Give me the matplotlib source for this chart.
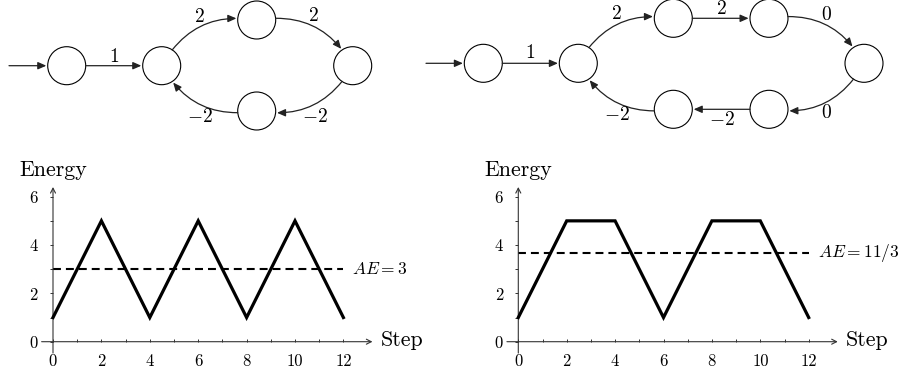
import matplotlib
matplotlib.use("Agg")
import matplotlib.pyplot as plt
from matplotlib.patches import Circle, FancyArrowPatch
import numpy as np

plt.rcParams['mathtext.fontset'] = 'cm'
plt.rcParams['font.family'] = ['cmr10', 'DejaVu Serif']
plt.rcParams['axes.formatter.use_mathtext'] = True

# ---------------- data ----------------
steps = list(range(13))
energy_left = [1, 3, 5, 3, 1, 3, 5, 3, 1, 3, 5, 3, 1]
energy_right = [1, 3, 5, 5, 5, 3, 1, 3, 5, 5, 5, 3, 1]
ae_left = 3
ae_right = 11 / 3
ae_left_label = r'$AE{=}3$'
ae_right_label = r'$AE{=}11/3$'
xtick_major = [0, 2, 4, 6, 8, 10, 12]
xtick_minor = [1, 3, 5, 7, 9, 11]
ytick_major = [0, 2, 4, 6]
ytick_minor = [1, 3, 5]

# graph 1: node positions (pixels), edges with weights
g1_nodes = [(66.7, 65.7), (161.7, 65.7), (256.7, 20.0), (352.7, 65.7), (256.7, 111.0)]
g1_edges = [(0, 1, '1', 0.0), (1, 2, '2', -0.35), (2, 3, '2', -0.35),
            (3, 4, r'$-2$', -0.35), (4, 1, r'$-2$', -0.35)]
g1_labels = [(114, 57), (199, 17), (313, 16), (315, 117), (200, 117)]
g1_entry = (9, 65.7)

g2_nodes = [(483.3, 63.3), (578.3, 63.3), (673.3, 18.3), (769.0, 18.3),
            (864.0, 63.3), (769.0, 109.3), (673.3, 109.3)]
g2_edges = [(0, 1, '1', 0.0), (1, 2, '2', -0.35), (2, 3, '2', 0.0), (3, 4, '0', -0.35),
            (4, 5, '0', -0.35), (5, 6, r'$-2$', 0.0), (6, 1, r'$-2$', -0.35)]
g2_labels = [(530, 53), (616, 14), (721, 9), (826, 15), (826, 113), (722, 120), (617, 115)]
g2_entry = (426, 63.3)

R = 19.0

W, H = 898, 378
fig = plt.figure(figsize=(W / 100, H / 100), dpi=100)

# ---------------- graphs overlay ----------------
ov = fig.add_axes([0, 0, 1, 1])
ov.set_xlim(0, W)
ov.set_ylim(H, 0)
ov.axis('off')

px2pt = 72 / 100.0


def draw_graph(nodes, edges, labels, entry):
    for (x, y) in nodes:
        ov.add_patch(Circle((x, y), R, fill=False, lw=0.8, ec='black'))
    # entry arrow
    x0, y0 = nodes[0]
    ov.add_patch(FancyArrowPatch(entry, (x0, y0), shrinkA=0, shrinkB=R * px2pt + 1,
                                 arrowstyle='-|>,head_length=5,head_width=2.2',
                                 mutation_scale=1, lw=0.9, color='#222222'))
    for (a, b, w, rad), (lx, ly) in zip(edges, labels):
        pa, pb = nodes[a], nodes[b]
        ov.add_patch(FancyArrowPatch(pa, pb, shrinkA=R * px2pt, shrinkB=R * px2pt + 1,
                                     connectionstyle=f'arc3,rad={rad}',
                                     arrowstyle='-|>,head_length=5,head_width=2.2',
                                     mutation_scale=1, lw=0.9, color='#222222'))
        txt = w if w.startswith('$') else f'${w}$'
        ov.text(lx, ly, txt, fontsize=14, ha='center', va='center')


draw_graph(g1_nodes, g1_edges, g1_labels, g1_entry)
draw_graph(g2_nodes, g2_edges, g2_labels, g2_entry)

# ---------------- charts ----------------
sx = 24.2
sy = 24.17
xlo, xhi = -2, 15
ylo, yhi = -1, 7.6


def make_chart(x0px, y0px, energy, ae, ae_label):
    left = (x0px + xlo * sx) / W
    width = (xhi - xlo) * sx / W
    bottom = (H - (y0px - ylo * sy)) / H
    height = (yhi - ylo) * sy / H
    ax = fig.add_axes([left, bottom, width, height])
    ax.set_xlim(xlo, xhi)
    ax.set_ylim(ylo, yhi)
    ax.patch.set_alpha(0)
    for s in ax.spines.values():
        s.set_visible(False)
    ax.spines['left'].set_position(('data', 0))
    ax.spines['bottom'].set_position(('data', 0))
    # axes lines with arrows
    ax.annotate('', xy=(13.2, 0), xytext=(-0.47, 0),
                arrowprops=dict(arrowstyle='->,head_length=0.35,head_width=0.18',
                                lw=0.8, color='#333333', shrinkA=0, shrinkB=0))
    ax.annotate('', xy=(0, 6.4), xytext=(0, -0.47),
                arrowprops=dict(arrowstyle='->,head_length=0.35,head_width=0.18',
                                lw=0.8, color='#333333', shrinkA=0, shrinkB=0))
    ax.set_xticks(xtick_major)
    ax.set_xticks(xtick_minor, minor=True)
    ax.set_yticks(ytick_major)
    ax.set_yticks(ytick_minor, minor=True)
    ax.set_xticklabels([str(v) for v in xtick_major])
    ax.set_yticklabels([str(v) for v in ytick_major])
    ax.tick_params(axis='x', which='both', direction='in', length=2, width=0.7,
                   color='#333333', labelsize=12, pad=8.5)
    ax.tick_params(axis='y', which='both', direction='out', length=2, width=0.7,
                   color='#333333', labelsize=12, pad=9)
    ax.plot(steps, energy, color='black', lw=2.3, solid_joinstyle='miter', zorder=3)
    ax.plot([steps[0], steps[-1]], [ae, ae], color='black', lw=1.5,
            dashes=(3.8, 2.4), zorder=2)
    ax.text(12.37, ae, ae_label, fontsize=12.5, ha='left', va='center')
    ax.text(0, 7.1, 'Energy', fontsize=15.8, ha='center', va='center')
    ax.text(13.55, 0.05, 'Step', fontsize=15.8, ha='left', va='center')
    return ax


make_chart(53.0, 341.7, energy_left, ae_left, ae_left_label)
make_chart(518.3, 341.7, energy_right, ae_right, ae_right_label)

fig.savefig('out.png', dpi=100)
